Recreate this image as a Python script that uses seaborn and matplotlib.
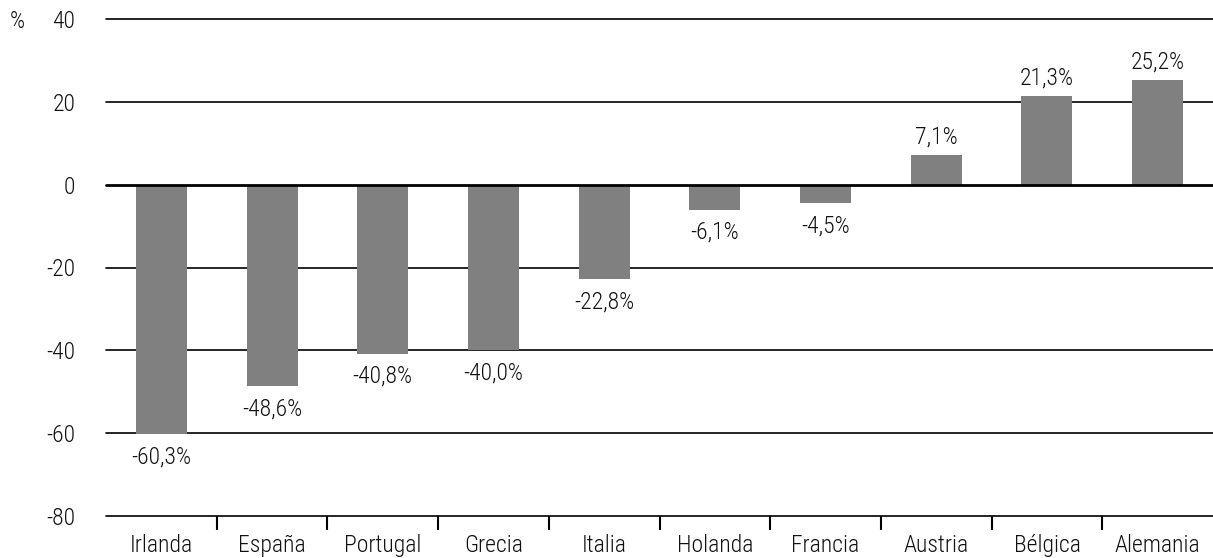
import matplotlib
matplotlib.use("Agg")
import pandas as pd
import seaborn as sns
import matplotlib.pyplot as plt
from matplotlib import font_manager

countries = ['Irlanda', 'España', 'Portugal', 'Grecia', 'Italia',
             'Holanda', 'Francia', 'Austria', 'Bélgica', 'Alemania']
values = [-60.3, -48.6, -40.8, -40.0, -22.8, -6.1, -4.5, 7.1, 21.3, 25.2]
yticks = [40, 20, 0, -20, -40, -60, -80]

df = pd.DataFrame({'country': countries, 'value': values})

sns.set_style("white")
names = {f.name for f in font_manager.fontManager.ttflist}
fam = next((n for n in ['Roboto Condensed', 'Liberation Sans Narrow',
                        'Archivo Narrow', 'Barlow Semi Condensed'] if n in names), 'Roboto')
plt.rcParams['font.family'] = [fam, 'DejaVu Sans']
plt.rcParams['font.weight'] = 'light'
plt.rcParams['axes.unicode_minus'] = False

fig = plt.figure(figsize=(12.13, 5.58), dpi=100)
ax = fig.add_axes([106 / 1213, 1 - 516 / 558, 1 - 106 / 1213, (516 - 19) / 558])

sns.barplot(data=df, x='country', y='value', ax=ax, color='#808080',
            saturation=1, width=0.46, linewidth=0)

ax.set_xlim(-0.5, 9.5)
ax.set_ylim(-80, 40)
ax.set_yticks(yticks)
for t in yticks:
    ax.axhline(t, color='black', lw=2 if t == 0 else 1.2,
               zorder=3 if t == 0 else 0, clip_on=False)

for s in ax.spines.values():
    s.set_visible(False)

fs = 17
tc = '#111111'
ax.tick_params(axis='y', left=False, length=0, pad=22, labelsize=fs, colors=tc)
ax.tick_params(axis='x', which='major', bottom=False, length=0, pad=13, labelsize=fs, colors=tc)
ax.set_xticks([i + 0.5 for i in range(9)], minor=True)
ax.tick_params(axis='x', which='minor', bottom=True, length=10, width=1.5,
               color='black', direction='out')
ax.set_xlabel('')
ax.set_ylabel('')

for i, v in enumerate(values):
    txt = f"{v:.1f}%".replace('.', ',')
    if v >= 0:
        ax.annotate(txt, (i, v), xytext=(0, 5), textcoords='offset points',
                    ha='center', va='bottom', fontsize=fs, color=tc)
    else:
        ax.annotate(txt, (i, v), xytext=(0, -8), textcoords='offset points',
                    ha='center', va='top', fontsize=fs, color=tc)

fig.text(10 / 1213, 1 - 22 / 558, '%', fontsize=fs, va='center', ha='left', color=tc)

fig.savefig('out.png', dpi=100)
